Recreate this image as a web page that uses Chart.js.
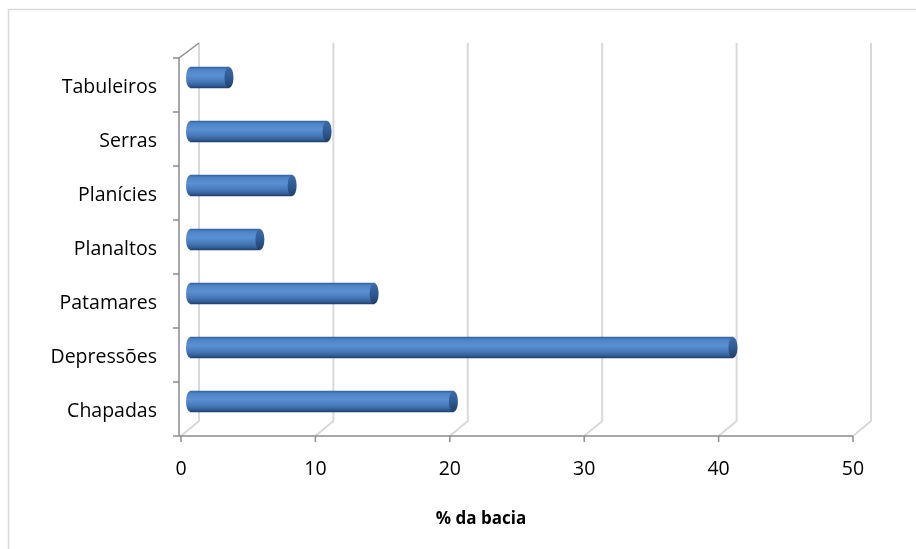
<!DOCTYPE html>
<html>
<head>
<meta charset="utf-8">
<script src="https://cdn.jsdelivr.net/npm/chart.js@4/dist/chart.umd.min.js"></script>
<style>
  html, body { margin: 0; padding: 0; background: #ffffff; }
  #wrap { width: 916px; height: 549px; position: relative; }
</style>
</head>
<body>
<div id="wrap"><canvas id="chart" width="916" height="549"></canvas></div>
<script>
// Relief units and their share of the basin area (%)
const categories = ['Tabuleiros', 'Serras', 'Planícies', 'Planaltos', 'Patamares', 'Depressões', 'Chapadas'];
const shares = [2.9, 10.2, 7.6, 5.2, 13.7, 40.4, 19.6];
const xTicks = [0, 10, 20, 30, 40, 50];
const xTitle = '% da bacia';

// Perspective depth of the pseudo-3D box (half depth, in px)
const DX = 9, DY = 7.5;
const BAR_H = 21, CAP_RX = 4.5;
const FONT = '"Open Sans", "Noto Sans", sans-serif';

function bodyGradient(ctx, yc) {
  const g = ctx.createLinearGradient(0, yc - BAR_H / 2, 0, yc + BAR_H / 2);
  g.addColorStop(0.0, '#34639e');
  g.addColorStop(0.12, '#4d83c4');
  g.addColorStop(0.4, '#5a91d4');
  g.addColorStop(0.7, '#4678b9');
  g.addColorStop(0.9, '#305c94');
  g.addColorStop(1.0, '#223f6a');
  return g;
}
function capGradient(ctx, yc) {
  const g = ctx.createLinearGradient(0, yc - BAR_H / 2, 0, yc + BAR_H / 2);
  g.addColorStop(0.0, '#3d6ba5');
  g.addColorStop(0.5, '#2f5b94');
  g.addColorStop(1.0, '#213f68');
  return g;
}

// Frame, walls, floor and front axes of the 3D box
const boxPlugin = {
  id: 'box3d',
  beforeDraw(chart) {
    const ctx = chart.ctx;
    ctx.save();
    ctx.strokeStyle = '#d9d9d9';
    ctx.lineWidth = 1.5;
    ctx.strokeRect(8.5, 9.5, 1000, 1000);
    ctx.restore();
  },
  beforeDatasetsDraw(chart) {
    const ctx = chart.ctx;
    const xs = chart.scales.x, ys = chart.scales.y;
    const top = chart.chartArea.top, bottom = chart.chartArea.bottom;
    const x0 = xs.getPixelForValue(0);
    ctx.save();
    // back wall and floor grid
    ctx.strokeStyle = '#d9d9d9';
    ctx.lineWidth = 2;
    xTicks.forEach(v => {
      const x = xs.getPixelForValue(v);
      ctx.beginPath();
      ctx.moveTo(x + DX, top - DY);
      ctx.lineTo(x + DX, bottom - DY);
      ctx.lineTo(x - DX, bottom + DY);
      ctx.stroke();
    });
    // side wall top edge
    ctx.strokeStyle = '#8c8c8c';
    ctx.lineWidth = 1.5;
    ctx.beginPath();
    ctx.moveTo(x0 - DX - 2, top + DY);
    ctx.lineTo(x0 + DX, top - DY);
    ctx.stroke();
    // front vertical axis with category ticks
    ctx.beginPath();
    ctx.moveTo(x0 - DX - 2, top + DY);
    ctx.lineTo(x0 - DX - 2, bottom + DY);
    const n = categories.length;
    for (let i = 0; i <= n; i++) {
      const y = ys.getPixelForValue(i - 0.5) + DY;
      ctx.moveTo(x0 - DX - 8, y);
      ctx.lineTo(x0 - DX - 2, y);
    }
    ctx.stroke();
    // front horizontal axis with value ticks
    ctx.beginPath();
    ctx.moveTo(x0 - DX - 2, bottom + DY);
    ctx.lineTo(xs.getPixelForValue(50) - DX, bottom + DY);
    xTicks.forEach(v => {
      const x = xs.getPixelForValue(v) - DX;
      ctx.moveTo(x, bottom + DY);
      ctx.lineTo(x, bottom + DY + 6);
    });
    ctx.stroke();
    ctx.restore();
  },
  afterDatasetsDraw(chart) {
    const ctx = chart.ctx;
    const meta = chart.getDatasetMeta(0);
    ctx.save();
    meta.data.forEach(bar => {
      const yc = bar.y;
      // rounded back end of the cylinder
      ctx.fillStyle = bodyGradient(ctx, yc);
      ctx.beginPath();
      ctx.ellipse(bar.base + 0.5, yc, CAP_RX, BAR_H / 2, 0, Math.PI / 2, Math.PI * 1.5);
      ctx.closePath();
      ctx.fill();
      // visible end face
      ctx.fillStyle = capGradient(ctx, yc);
      ctx.beginPath();
      ctx.ellipse(bar.x, yc, CAP_RX, BAR_H / 2, 0, 0, Math.PI * 2);
      ctx.fill();
    });
    ctx.restore();
  },
  afterDraw(chart) {
    const ctx = chart.ctx;
    ctx.save();
    ctx.fillStyle = '#000000';
    ctx.font = 'bold 17px ' + FONT;
    ctx.textAlign = 'center';
    ctx.textBaseline = 'middle';
    ctx.fillText(xTitle, 481, 519);
    ctx.restore();
  }
};

new Chart(document.getElementById('chart'), {
  type: 'bar',
  data: {
    labels: categories,
    datasets: [{
      data: shares,
      barThickness: BAR_H,
      borderWidth: 0,
      backgroundColor: (c) => {
        const ys = c.chart.scales.y;
        const yc = ys ? ys.getPixelForValue(c.dataIndex) : NaN;
        if (!Number.isFinite(yc)) return '#4f81bd';
        return bodyGradient(c.chart.ctx, yc);
      }
    }]
  },
  options: {
    indexAxis: 'y',
    responsive: false,
    animation: false,
    layout: { padding: { left: 0, top: 50.5, right: 54, bottom: 0 } },
    plugins: { legend: { display: false }, tooltip: { enabled: false }, title: { display: false } },
    scales: {
      x: {
        min: 0, max: 50,
        afterFit: (s) => { s.height = 120.5; },
        afterBuildTicks: (s) => { s.ticks = xTicks.map(v => ({ value: v })); },
        grid: { display: false, drawTicks: false },
        border: { display: false },
        ticks: { padding: 29, labelOffset: -DX, color: '#000000', font: { family: FONT, size: 19.5 } }
      },
      y: {
        afterFit: (s) => { s.width = 190; },
        grid: { display: false, drawTicks: false },
        border: { display: false },
        ticks: { padding: 33, labelOffset: DY + 2, color: '#000000', font: { family: FONT, size: 19.5 } }
      }
    }
  },
  plugins: [boxPlugin]
});
</script>
</body>
</html>
